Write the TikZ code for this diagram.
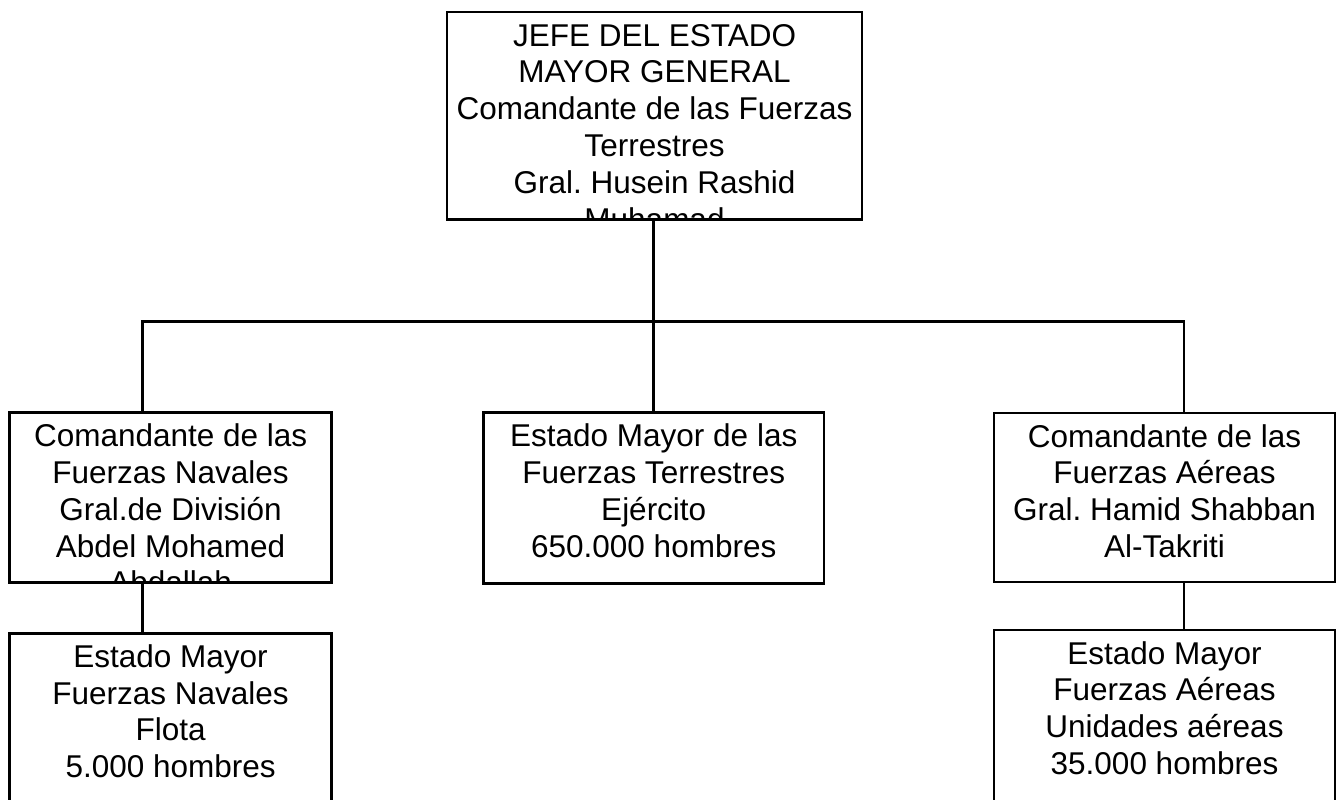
\documentclass[tikz,border=0pt]{standalone}
\usepackage{fontspec}
\setmainfont{Liberation Sans}
\frenchspacing
\begin{document}
\begin{tikzpicture}[x=1pt,y=-1pt,
  box/.style={draw, line width=2.6pt, inner sep=0pt, outer sep=0pt, anchor=north west},
  txt/.style={anchor=north, inner sep=0pt, outer sep=0pt, align=center,
    font=\fontsize{31.5}{36.8}\selectfont\frenchspacing, yshift=-10pt},
  conn/.style={line width=2.6pt}]
\clip (0,0) rectangle (1338,800);
\fill[white] (0,0) rectangle (1338,800);
% boxes
\node[box, minimum width=415pt, minimum height=207.5pt] (jefe) at (447,12) {};
\node[box, minimum width=322.2pt, minimum height=170pt] (nav) at (9.5,412.7) {};
\node[box, minimum width=340.5pt, minimum height=170.5pt] (ct) at (483.5,412.7) {};
\node[box, minimum width=341pt, minimum height=169pt] (aer) at (994,413) {};
\node[box, minimum width=322.2pt, minimum height=200pt] (navsm) at (9.5,633.3) {};
\node[box, minimum width=341pt, minimum height=200pt] (aersm) at (994,630) {};
% texts (clipped to their boxes)
\begin{scope}
\clip (jefe.north west) rectangle (jefe.south east);
\node[txt] (jefet) at (jefe.north) {\rule{0pt}{24pt}JEFE DEL ESTADO\\MAYOR GENERAL\\Comandante de las Fuerzas\\Terrestres\\Gral. Husein Rashid\\Muhamad};
\end{scope}
\begin{scope}
\clip (nav.north west) rectangle (nav.south east);
\node[txt] (navt) at (nav.north) {\rule{0pt}{24pt}Comandante de las\\Fuerzas Navales\\Gral.de División\\Abdel Mohamed\\Abdallah};
\end{scope}
\begin{scope}
\clip (ct.north west) rectangle (ct.south east);
\node[txt] (ctt) at (ct.north) {\rule{0pt}{24pt}Estado Mayor de las\\Fuerzas Terrestres\\Ejército\\650.000 hombres};
\end{scope}
\begin{scope}
\clip (aer.north west) rectangle (aer.south east);
\node[txt] (aert) at (aer.north) {\rule{0pt}{24pt}Comandante de las\\Fuerzas Aéreas\\Gral. Hamid Shabban\\Al-Takriti};
\end{scope}
\begin{scope}
\clip (navsm.north west) rectangle (navsm.south east);
\node[txt] (navsmt) at (navsm.north) {\rule{0pt}{24pt}Estado Mayor\\Fuerzas Navales\\Flota\\5.000 hombres};
\end{scope}
\begin{scope}
\clip (aersm.north west) rectangle (aersm.south east);
\node[txt] (aersmt) at (aersm.north) {\rule{0pt}{24pt}Estado Mayor\\Fuerzas Aéreas\\Unidades aéreas\\35.000 hombres};
\end{scope}
% connectors
\coordinate (lx) at (142.7,321.7);
\coordinate (rx) at (1184,321.7);
\coordinate (cx) at (653.3,321.7);
\draw[conn] (lx |- nav.north) -- (lx) -- (rx) -- (rx |- aer.north);
\draw[conn] (cx |- jefe.south) -- (cx |- ct.north);
\draw[conn] (lx |- nav.south) -- (lx |- navsm.north);
\draw[conn] (rx |- aer.south) -- (rx |- aersm.north);
\end{tikzpicture}
\end{document}
